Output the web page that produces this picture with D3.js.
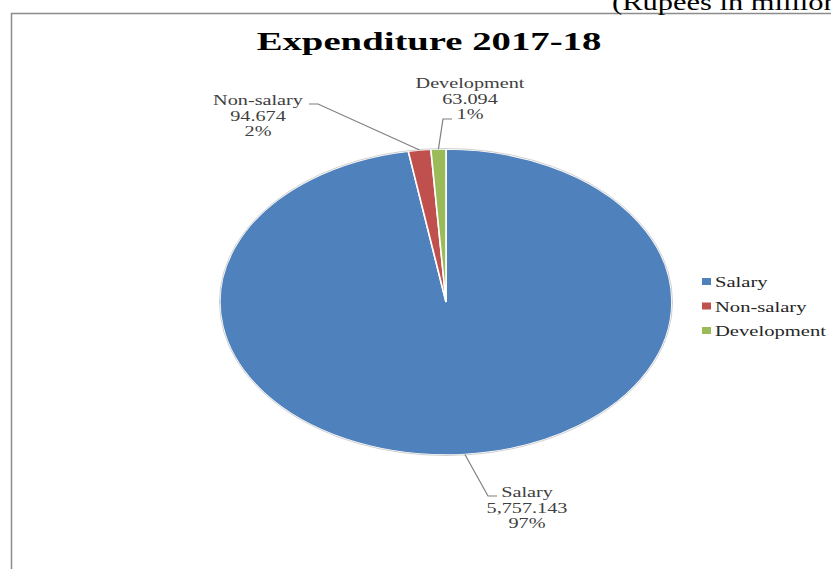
<!DOCTYPE html>
<html lang="en">
<head>
<meta charset="utf-8">
<script src="https://d3js.org/d3.v7.min.js"></script>
<style>
  html, body { margin: 0; padding: 0; background: #fff; overflow: hidden; }
  text { font-family: "Liberation Serif", "Times New Roman", serif; }
</style>
</head>
<body>
<script>
// chart data
const categories = ["Salary", "Non-salary", "Development"];
const values = [5757.143, 94.674, 63.094];
const valueLabels = ["5,757.143", "94.674", "63.094"];
const percentLabels = ["97%", "2%", "1%"];
const colors = ["#4F81BD", "#C0504D", "#9BBB59"];

const width = 831, height = 569;
const cx = 446, cy = 302, rx = 226, ry = 153;

const svg = d3.select("body").append("svg")
  .attr("width", width)
  .attr("height", height);

// frame
svg.append("path")
  .attr("d", `M11.5,${height} V13.5 H${width}`)
  .attr("fill", "none")
  .attr("stroke", "#8c8c8c")
  .attr("stroke-width", 1.5);

// stretched text helper
function stretchText(x, y, str, size, k, anchor, opts = {}) {
  return svg.append("text")
    .attr("transform", `translate(${x},${y}) scale(${k},1)`)
    .attr("text-anchor", anchor)
    .attr("font-size", size)
    .attr("font-weight", opts.bold ? "bold" : null)
    .attr("fill", opts.fill || "#404040")
    .text(str);
}

// unit note, runs off the top right like the original
stretchText(612, 10, "(Rupees in million)", 24, 1.27, "start", { fill: "#000" });

// title
stretchText(429, 50, "Expenditure 2017-18", 26, 1.49, "middle", { bold: true, fill: "#000" });

// pie
const pie = d3.pie().sort(null).value(d => d)(values);
const arc = d3.arc().innerRadius(0).outerRadius(1);

const gPie = svg.append("g")
  .attr("transform", `translate(${cx},${cy}) scale(${rx},${ry})`);

gPie.selectAll("path")
  .data(pie)
  .join("path")
  .attr("d", arc)
  .attr("fill", (d, i) => colors[i])
  .attr("stroke", "#fff")
  .attr("stroke-width", 1.6)
  .attr("vector-effect", "non-scaling-stroke");

// soft outline on the ellipse
svg.append("ellipse")
  .attr("cx", cx).attr("cy", cy)
  .attr("rx", rx + 0.5).attr("ry", ry + 0.5)
  .attr("fill", "none")
  .attr("stroke", "#d0d0d0")
  .attr("stroke-width", 1);

// point on the ellipse edge at the middle of each slice
function edgePoint(d) {
  const a = (d.startAngle + d.endAngle) / 2;
  return [cx + rx * Math.sin(a), cy - ry * Math.cos(a)];
}

// label layout (relative to pie centre)
const labelLayout = [
  { x: cx + 81, y: cy + 195, elbow: [[cx + 42, cy + 194], [cx + 51, cy + 194]] },
  { x: cx - 188, y: cy - 197, elbow: [[cx - 128, cy - 198], [cx - 137, cy - 198]] },
  { x: cx + 24, y: cy - 214, elbow: [[cx - 3, cy - 183], [cx + 6, cy - 183]] }
];

pie.forEach((d, i) => {
  const p = edgePoint(d);
  const L = labelLayout[i];
  svg.append("path")
    .attr("d", d3.line()([p, L.elbow[0], L.elbow[1]]))
    .attr("fill", "none")
    .attr("stroke", "#7f7f7f")
    .attr("stroke-width", 1.2);
  [categories[i], valueLabels[i], percentLabels[i]].forEach((t, j) => {
    stretchText(L.x, L.y + j * 15.5, t, 15, 1.35, "middle");
  });
});

// legend
const legend = svg.append("g").attr("transform", "translate(702,278)");
categories.forEach((c, i) => {
  const g = legend.append("g").attr("transform", `translate(0,${i * 24.5})`);
  g.append("rect")
    .attr("width", 9).attr("height", 7)
    .attr("fill", colors[i]);
  g.append("text")
    .attr("transform", "translate(13,9) scale(1.33,1)")
    .attr("font-size", 15.5)
    .attr("fill", "#262626")
    .text(c);
});
</script>
</body>
</html>
